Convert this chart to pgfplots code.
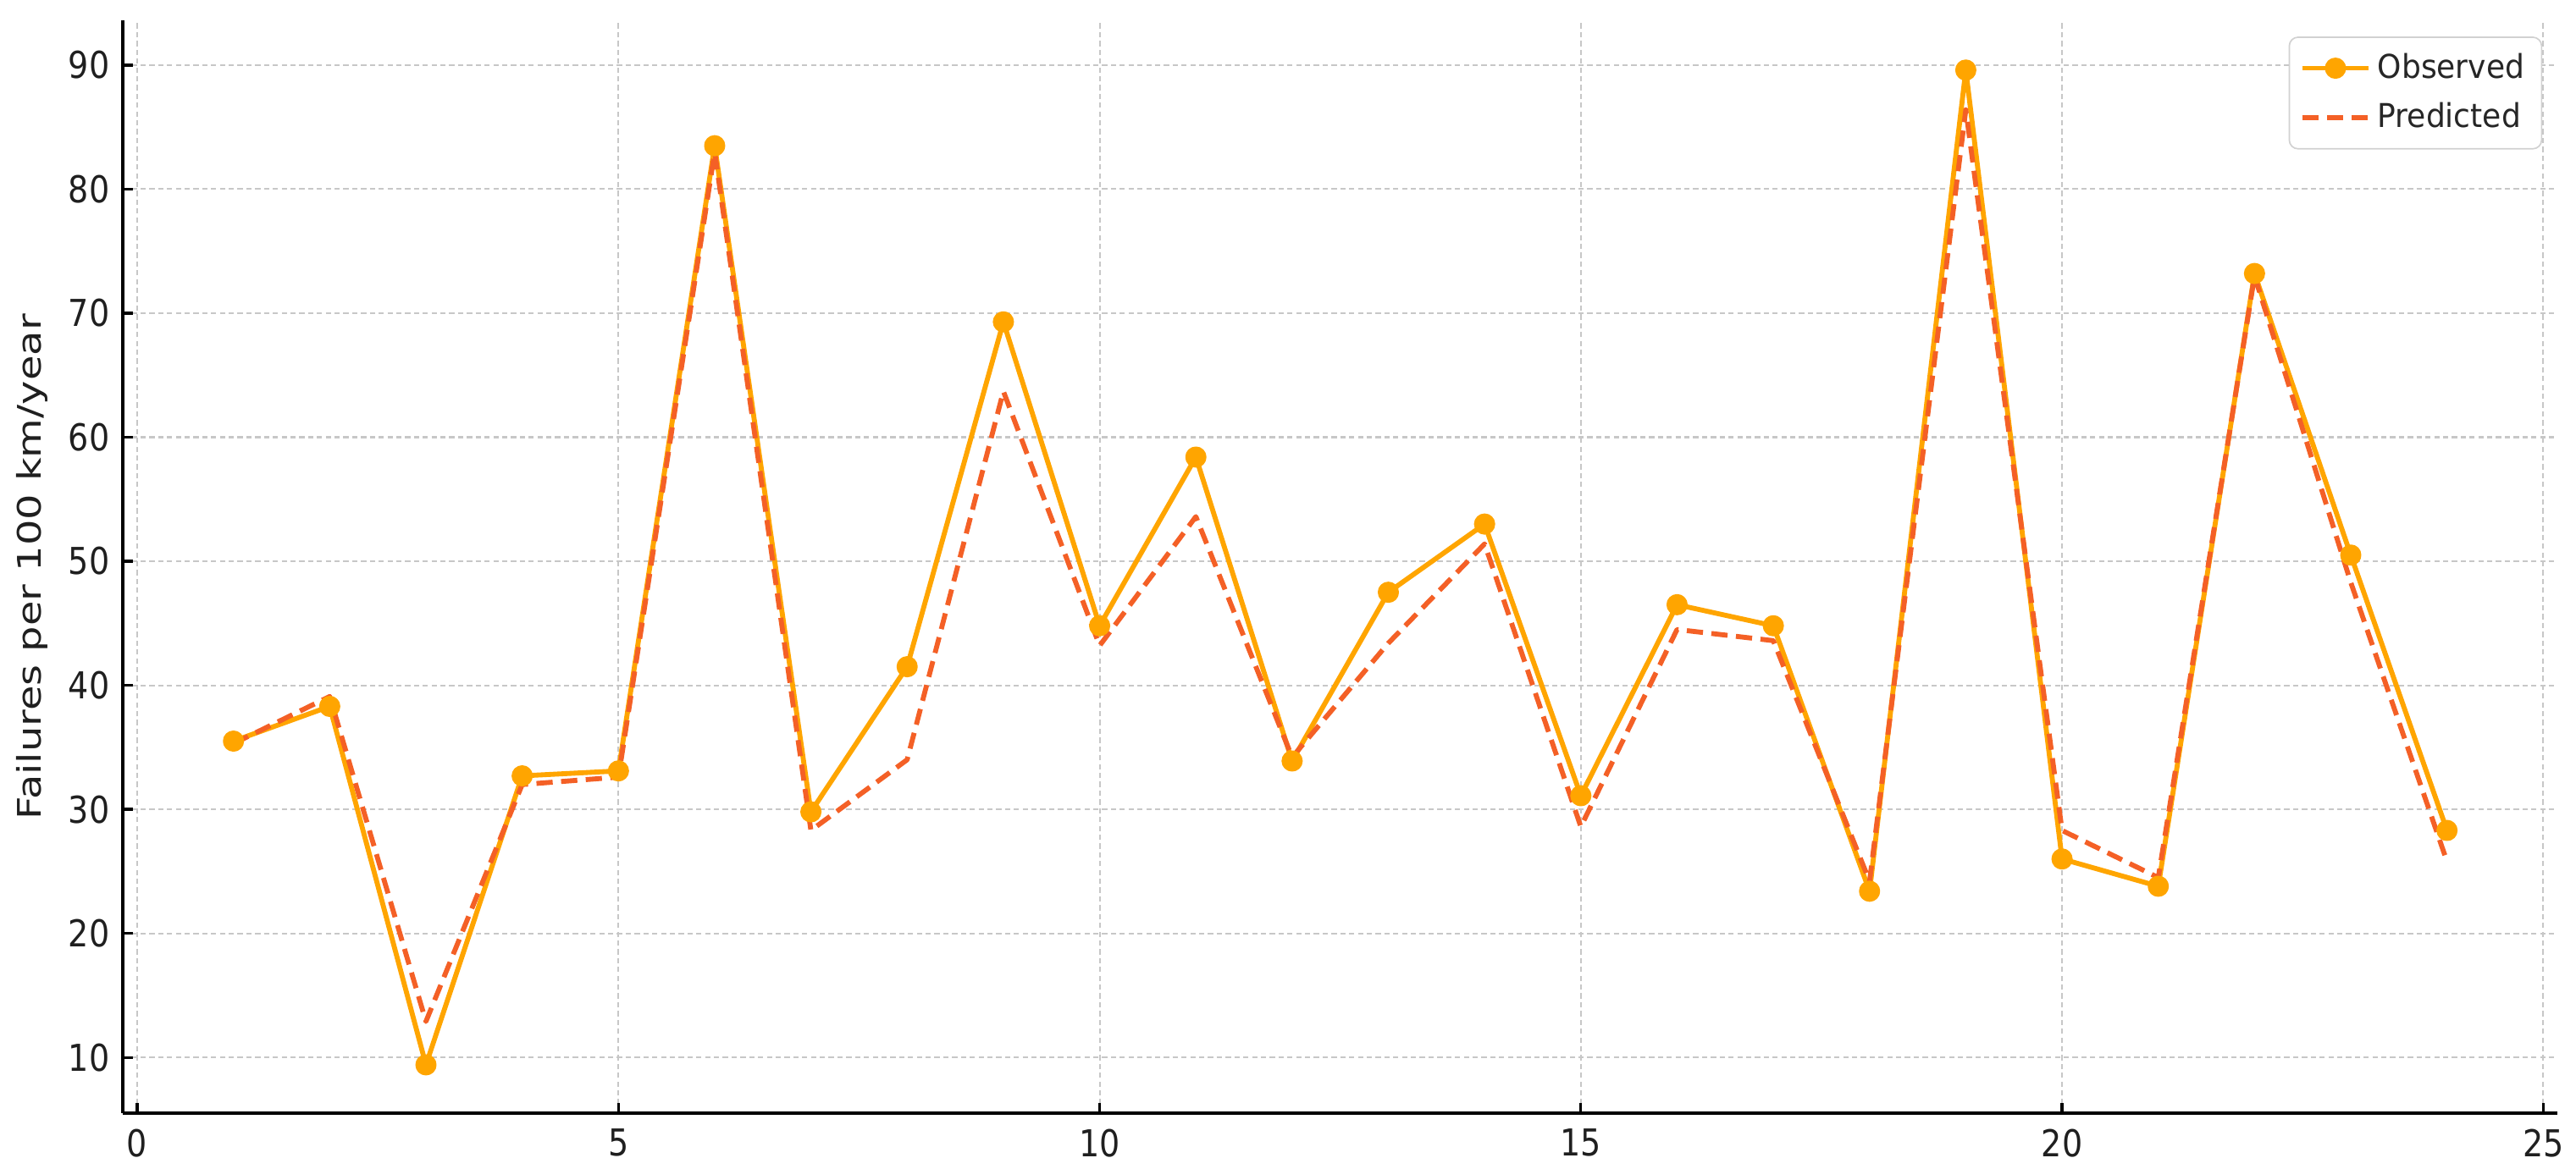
\documentclass[border=0pt]{standalone}
\usepackage{pgfplots}
\pgfplotsset{compat=1.18}
\usepackage{fontspec}
\setmainfont{DejaVu Sans}
\definecolor{obs}{RGB}{255,165,0}
\definecolor{pred}{RGB}{244,96,38}
\begin{document}
\begin{tikzpicture}
\useasboundingbox (-34.8pt,-15.6pt) rectangle (695.2pt,315.6pt);
\begin{axis}[
  at={(0,0)}, anchor=south west,
  width=690pt, height=309.8pt, scale only axis,
  xmin=-0.15, xmax=25.15, ymin=5.5, ymax=93.6,
  xtick={0,5,...,25}, ytick={10,20,...,90},
  axis x line*=bottom, axis y line*=left,
  axis line style={black, line width=0.8pt, -},
  tick align=inside, major tick length=2.9pt,
  tick style={black, line width=0.8pt},
  /pgf/number format/assume math mode=true,
  ticklabel style={font=\fontsize{10.5}{12}\selectfont, text=black!88, xscale=0.87},
  xticklabel style={yshift=-1pt},
  yticklabel style={xshift=-0.8pt},
  xmajorgrids, ymajorgrids,
  grid style={black!22, dash pattern=on 1.5pt off 1pt, line width=0.5pt},
  ylabel={Failures per 100 km/year},
  every axis y label/.style={at={(axis description cs:-0.0372,0.5)}, anchor=center, rotate=90,
    font=\fontsize{11.5}{13}\selectfont, text=black!88, yscale=0.8},
  legend style={at={(0.9937,0.9853)}, anchor=north east, draw=black!18,
    rounded corners=2.5pt, font=\fontsize{9.3}{11}\selectfont,
    text=black!85, row sep=1.5pt, inner xsep=3pt, inner ysep=2.5pt,
    nodes={xscale=0.93}},
  legend cell align=left,
  legend image code/.code={\draw[mark repeat=2,mark phase=2,#1] plot coordinates {(0cm,0cm) (0.33cm,0cm) (0.66cm,0cm)};},
]
\addplot[obs, line width=1.4pt, line join=round, mark=*, mark size=2.3pt, mark options={solid, fill=obs, draw=obs}] coordinates {
  (1,35.5) (2,38.3) (3,9.4) (4,32.7) (5,33.1) (6,83.5) (7,29.8) (8,41.5)
  (9,69.3) (10,44.8) (11,58.4) (12,33.9) (13,47.5) (14,53.0) (15,31.1)
  (16,46.5) (17,44.8) (18,23.4) (19,89.6) (20,26.0) (21,23.8) (22,73.2)
  (23,50.5) (24,28.3)};
\addlegendentry{Observed}
\addplot[pred, line width=1.4pt, line join=round, dash pattern=on 4.6pt off 2.4pt] coordinates {
  (1,35.3) (2,39.1) (3,12.9) (4,32.0) (5,32.6) (6,83.0) (7,28.3) (8,34.0)
  (9,63.7) (10,43.2) (11,53.6) (12,34.2) (13,43.4) (14,51.4) (15,28.6)
  (16,44.5) (17,43.6) (18,24.2) (19,86.4) (20,28.3) (21,24.5) (22,73.0)
  (23,48.3) (24,25.8)};
\addlegendentry{Predicted}
\end{axis}
\end{tikzpicture}
\end{document}
